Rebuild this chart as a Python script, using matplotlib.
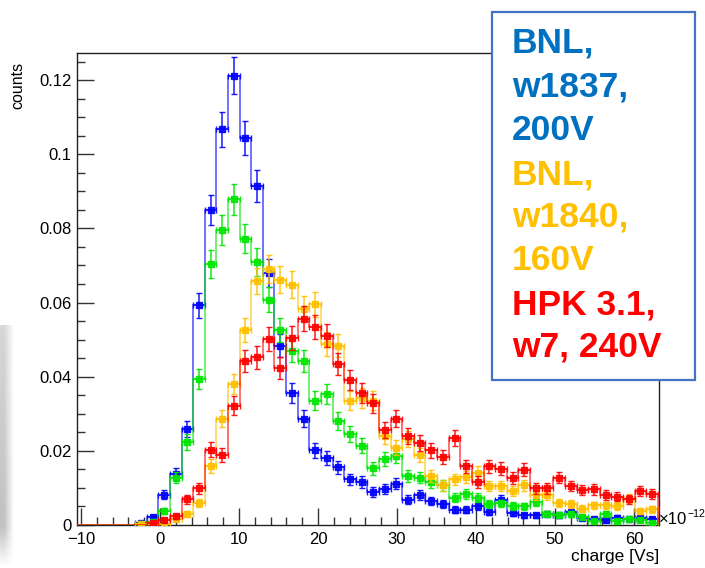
import numpy as np
import matplotlib
matplotlib.use("Agg")
import matplotlib.pyplot as plt
from matplotlib.patches import Rectangle
from matplotlib.ticker import MultipleLocator

plt.rcParams['font.family'] = ['Liberation Sans', 'DejaVu Sans']

# ---- data: 50 bins from -10.5 to 63 (charge in units of 1e-12 Vs) ----
bin_lo, bin_hi, n_bins = -10.5, 63.0, 50

blue = [0, 0, 0, 0, 0, 0.0006, 0.0021, 0.0082, 0.0137, 0.0259,
        0.0592, 0.0849, 0.1067, 0.1212, 0.1044, 0.0915, 0.0680, 0.0484, 0.0355, 0.0287,
        0.0202, 0.0180, 0.0156, 0.0123, 0.0116, 0.0089, 0.0097, 0.0111, 0.0068, 0.0081,
        0.0064, 0.0057, 0.0041, 0.0041, 0.0052, 0.0034, 0.0068, 0.0033, 0.0026, 0.0026,
        0.0031, 0.0026, 0.0035, 0.0020, 0.0017, 0.0013, 0.0020, 0.0017, 0.0020, 0.0015]

green = [0, 0, 0, 0, 0, 0.0003, 0.0008, 0.0038, 0.0128, 0.0223,
         0.0394, 0.0705, 0.0795, 0.0879, 0.0772, 0.0710, 0.0608, 0.0527, 0.0470, 0.0441,
         0.0335, 0.0353, 0.0281, 0.0245, 0.0214, 0.0153, 0.0178, 0.0186, 0.0131, 0.0128,
         0.0116, 0.0107, 0.0074, 0.0083, 0.0074, 0.0056, 0.0058, 0.0052, 0.0050, 0.0063,
         0.0031, 0.0028, 0.0030, 0.0022, 0.0011, 0.0031, 0.0011, 0.0015, 0.0013, 0.0006]

orange = [0, 0, 0, 0, 0, 0.0003, 0.0002, 0.0002, 0.0015, 0.0029,
          0.0060, 0.0159, 0.0287, 0.0380, 0.0527, 0.0658, 0.0691, 0.0662, 0.0648, 0.0583,
          0.0595, 0.0488, 0.0484, 0.0335, 0.0342, 0.0335, 0.0240, 0.0209, 0.0233, 0.0189,
          0.0131, 0.0107, 0.0123, 0.0130, 0.0141, 0.0105, 0.0105, 0.0092, 0.0107, 0.0081,
          0.0081, 0.0060, 0.0057, 0.0044, 0.0053, 0.0053, 0.0051, 0.0071, 0.0038, 0.0042]

red = [0, 0, 0, 0, 0, 0, 0.0005, 0.0013, 0.0023, 0.0069,
       0.0099, 0.0203, 0.0189, 0.0322, 0.0441, 0.0452, 0.0502, 0.0424, 0.0505, 0.0556,
       0.0533, 0.0511, 0.0435, 0.0391, 0.0357, 0.0329, 0.0256, 0.0287, 0.0240, 0.0221,
       0.0202, 0.0184, 0.0234, 0.0158, 0.0116, 0.0158, 0.0152, 0.0126, 0.0149, 0.0099,
       0.0099, 0.0128, 0.0105, 0.0094, 0.0096, 0.0081, 0.0076, 0.0069, 0.0092, 0.0083]

# Poisson-like error scale (err = sqrt(value * err_scale))
err_scale = 2.0e-4

series = [("blue", blue, "#0000ff"),
          ("green", green, "#00e600"),
          ("orange", orange, "#ffc000"),
          ("red", red, "#ff0000")]

legend_lines = [("BNL,", "#0070c0"), ("w1837,", "#0070c0"), ("200V", "#0070c0"),
                ("BNL,", "#ffc000"), ("w1840,", "#ffc000"), ("160V", "#ffc000"),
                ("HPK 3.1,", "#ff0000"), ("w7, 240V", "#ff0000")]

W, H = 705, 568
fig = plt.figure(figsize=(W / 100, H / 100), dpi=100)
fig.patch.set_facecolor('white')

# faint grey slide background strip at the left edge
bg = fig.add_axes([0, 0, 14 / W, (H - 325) / H], zorder=-5)
gx = np.linspace(0, 1, 40)[None, :]
gy = np.linspace(1, 0, 80)[:, None]
shade = (1 - np.clip((gx - 0.3) / 0.7, 0, 1)) * np.clip(gy * 6, 0, 1) * (0.16 + 0.10 * (1 - gy))
bg.imshow(1 - shade, cmap='gray', vmin=0, vmax=1, aspect='auto', extent=[0, 1, 0, 1])
bg.axis('off')

L, R, T, B = 77, 659, 53, 525
ax = fig.add_axes([L / W, (H - B) / H, (R - L) / W, (B - T) / H])

edges = np.linspace(bin_lo, bin_hi, n_bins + 1)
centers = 0.5 * (edges[:-1] + edges[1:])
half = 0.5 * (edges[1] - edges[0])

for z, (name, vals, col) in enumerate(series):
    v = np.array(vals, dtype=float)
    ax.stairs(v, edges, color=col, lw=1.3, alpha=0.6, zorder=2 + z)
    m = v > 0
    ax.errorbar(centers[m], v[m], yerr=np.sqrt(v[m] * err_scale), xerr=half,
                fmt='s', ms=5, color=col, ecolor=col, elinewidth=1.1,
                capsize=2.2, capthick=1.0, zorder=2.5 + z, alpha=0.9)

ax.set_xlim(bin_lo, bin_hi + 0.15)
ax.set_ylim(0, 0.1273)

ax.xaxis.set_major_locator(MultipleLocator(10))
ax.xaxis.set_minor_locator(MultipleLocator(2))
ax.yaxis.set_major_locator(MultipleLocator(0.02))
ax.yaxis.set_minor_locator(MultipleLocator(0.005))
ax.tick_params(axis='both', which='major', direction='in', length=12, width=1.0,
               labelsize=12, top=False, right=False, color='#333333')
ax.tick_params(axis='both', which='minor', direction='in', length=6, width=1.0,
               top=False, right=False, color='#333333')
ax.tick_params(axis='x', which='major', pad=5)
ax.tick_params(axis='y', which='major', pad=4)
ax.set_yticks([0, 0.02, 0.04, 0.06, 0.08, 0.1, 0.12])
ax.set_yticklabels(['0', '0.02', '0.04', '0.06', '0.08', '0.1', '0.12'])
ax.set_xticks([-10, 0, 10, 20, 30, 40, 50, 60])
ax.set_xticklabels(['\u221210', '0', '10', '20', '30', '40', '50', '60'])
for sp in ax.spines.values():
    sp.set_linewidth(1.0)
    sp.set_color('#222222')

fig.text(R / W, 1 - 557 / H, 'charge [Vs]', ha='right', va='center', fontsize=12.5)
fig.text(18 / W, 1 - 62 / H, 'counts', ha='center', va='top', rotation=90, fontsize=11.5)

# axis exponent: "x10" with raised "-12"
t_base = fig.text(659 / W, 1 - 520 / H, '\u00d710', ha='left', va='center', fontsize=12)
fig.canvas.draw()
fig.text(0, 0, '\u221212', fontsize=7.6, ha='left', va='center',
         transform=fig.transFigure)
exp_txt = fig.texts[-1]
exp_txt.remove()
ax.annotate('\u221212', xy=(1.0, 0.92), xycoords=t_base, ha='left', va='center',
            fontsize=7.6, annotation_clip=False)

# text box
box = Rectangle((492 / W, 1 - 380 / H), (695 - 492) / W, (380 - 12) / H,
                transform=fig.transFigure, facecolor='white', edgecolor='#4472c4',
                lw=1.6, zorder=10)
fig.patches.append(box)
ys = [43, 87, 130, 175, 217, 260, 305, 347]
for (txt, col), yy in zip(legend_lines, ys):
    fig.text(512 / W, 1 - yy / H, txt, color=col, fontsize=25.5, fontweight='bold',
             ha='left', va='center', zorder=11)

fig.savefig('out.png', dpi=100)
